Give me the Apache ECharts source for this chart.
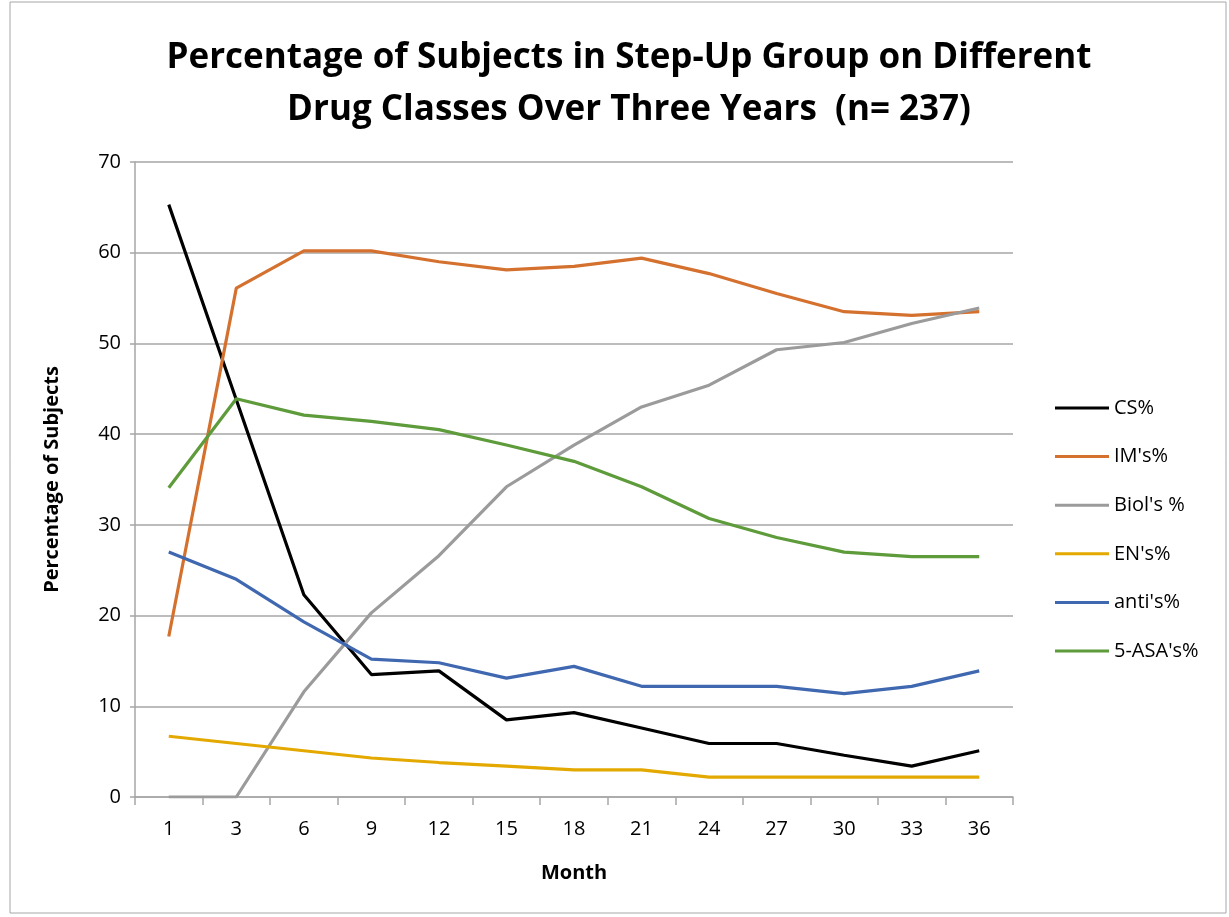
<!DOCTYPE html>
<html>
<head>
<meta charset="utf-8">
<script src="https://cdn.jsdelivr.net/npm/echarts@6/dist/echarts.min.js"></script>
<style>
  html, body { margin: 0; padding: 0; background: #fff; }
  #chart { width: 1229px; height: 917px; }
</style>
</head>
<body>
<div id="chart"></div>
<script>
// data
var months = ['1', '3', '6', '9', '12', '15', '18', '21', '24', '27', '30', '33', '36'];
var csPct = [65.3, 43.8, 22.3, 13.5, 13.9, 8.5, 9.3, 7.6, 5.9, 5.9, 4.6, 3.4, 5.1];
var imPct = [17.7, 56.1, 60.2, 60.2, 59.0, 58.1, 58.5, 59.4, 57.7, 55.5, 53.5, 53.1, 53.5];
var biolPct = [0, 0, 11.6, 20.3, 26.6, 34.2, 38.8, 43.0, 45.4, 49.3, 50.1, 52.2, 53.9];
var enPct = [6.7, 5.9, 5.1, 4.3, 3.8, 3.4, 3.0, 3.0, 2.2, 2.2, 2.2, 2.2, 2.2];
var antiPct = [27.0, 24.0, 19.3, 15.2, 14.8, 13.1, 14.4, 12.2, 12.2, 12.2, 11.4, 12.2, 13.9];
var asaPct = [34.1, 43.9, 42.1, 41.4, 40.5, 38.8, 37.0, 34.2, 30.7, 28.6, 27.0, 26.5, 26.5];
var yTicks = [0, 10, 20, 30, 40, 50, 60, 70];

var font = 'Open Sans';
var chart = echarts.init(document.getElementById('chart'));

function mkLine(name, data, color) {
    return {
        name: name,
        type: 'line',
        data: data,
        symbol: 'none',
        lineStyle: { color: color, width: 3.2 },
        itemStyle: { color: color },
        animation: false
    };
}

chart.setOption({
    backgroundColor: '#fff',
    graphic: [{
        type: 'rect',
        shape: { x: 10, y: 2, width: 1216, height: 911 },
        style: { fill: 'none', stroke: '#a6a6a6', lineWidth: 1 },
        silent: true
    }],
    title: {
        text: 'Percentage of Subjects in Step-Up Group on Different\nDrug Classes Over Three Years  (n= 237)',
        left: 624,
        textAlign: 'center',
        top: 27,
        textStyle: {
            fontFamily: font,
            fontSize: 35,
            fontWeight: 'bold',
            color: '#000',
            lineHeight: 52
        }
    },
    legend: {
        orient: 'vertical',
        left: 1050,
        top: 393,
        itemWidth: 54,
        itemHeight: 3,
        itemGap: 28.6,
        icon: 'rect',
        textStyle: { fontFamily: font, fontSize: 20, color: '#000' },
        data: ["CS%", "IM's%", "Biol's %", "EN's%", "anti's%", "5-ASA's%"]
    },
    grid: { left: 135, right: 216, top: 162, bottom: 120 },
    xAxis: {
        type: 'category',
        data: months,
        boundaryGap: true,
        name: 'Month',
        nameLocation: 'middle',
        nameGap: 66,
        nameTextStyle: { fontFamily: font, fontSize: 20, fontWeight: 'bold', color: '#000' },
        axisLine: { lineStyle: { color: '#a6a6a6', width: 1.5 } },
        axisTick: { show: true, length: 8, lineStyle: { color: '#a6a6a6', width: 1.5 } },
        axisLabel: { fontFamily: font, fontSize: 20, color: '#000', margin: 22 }
    },
    yAxis: {
        type: 'value',
        min: yTicks[0],
        max: yTicks[yTicks.length - 1],
        interval: 10,
        name: 'Percentage of Subjects',
        nameLocation: 'middle',
        nameGap: 73,
        nameTextStyle: { fontFamily: font, fontSize: 20, fontWeight: 'bold', color: '#000' },
        axisLine: { show: true, lineStyle: { color: '#a6a6a6', width: 1.5 } },
        axisTick: { show: true, length: 5, lineStyle: { color: '#a6a6a6', width: 1.5 } },
        axisLabel: { fontFamily: font, fontSize: 20, color: '#000', margin: 14 },
        splitLine: { lineStyle: { color: '#a6a6a6', width: 1.5 } }
    },
    series: [
        mkLine("CS%", csPct, '#000000'),
        mkLine("IM's%", imPct, '#d4712f'),
        mkLine("Biol's %", biolPct, '#9b9b9b'),
        mkLine("EN's%", enPct, '#e4a900'),
        mkLine("anti's%", antiPct, '#3f68b1'),
        mkLine("5-ASA's%", asaPct, '#5e9b3b')
    ]
});
</script>
</body>
</html>
